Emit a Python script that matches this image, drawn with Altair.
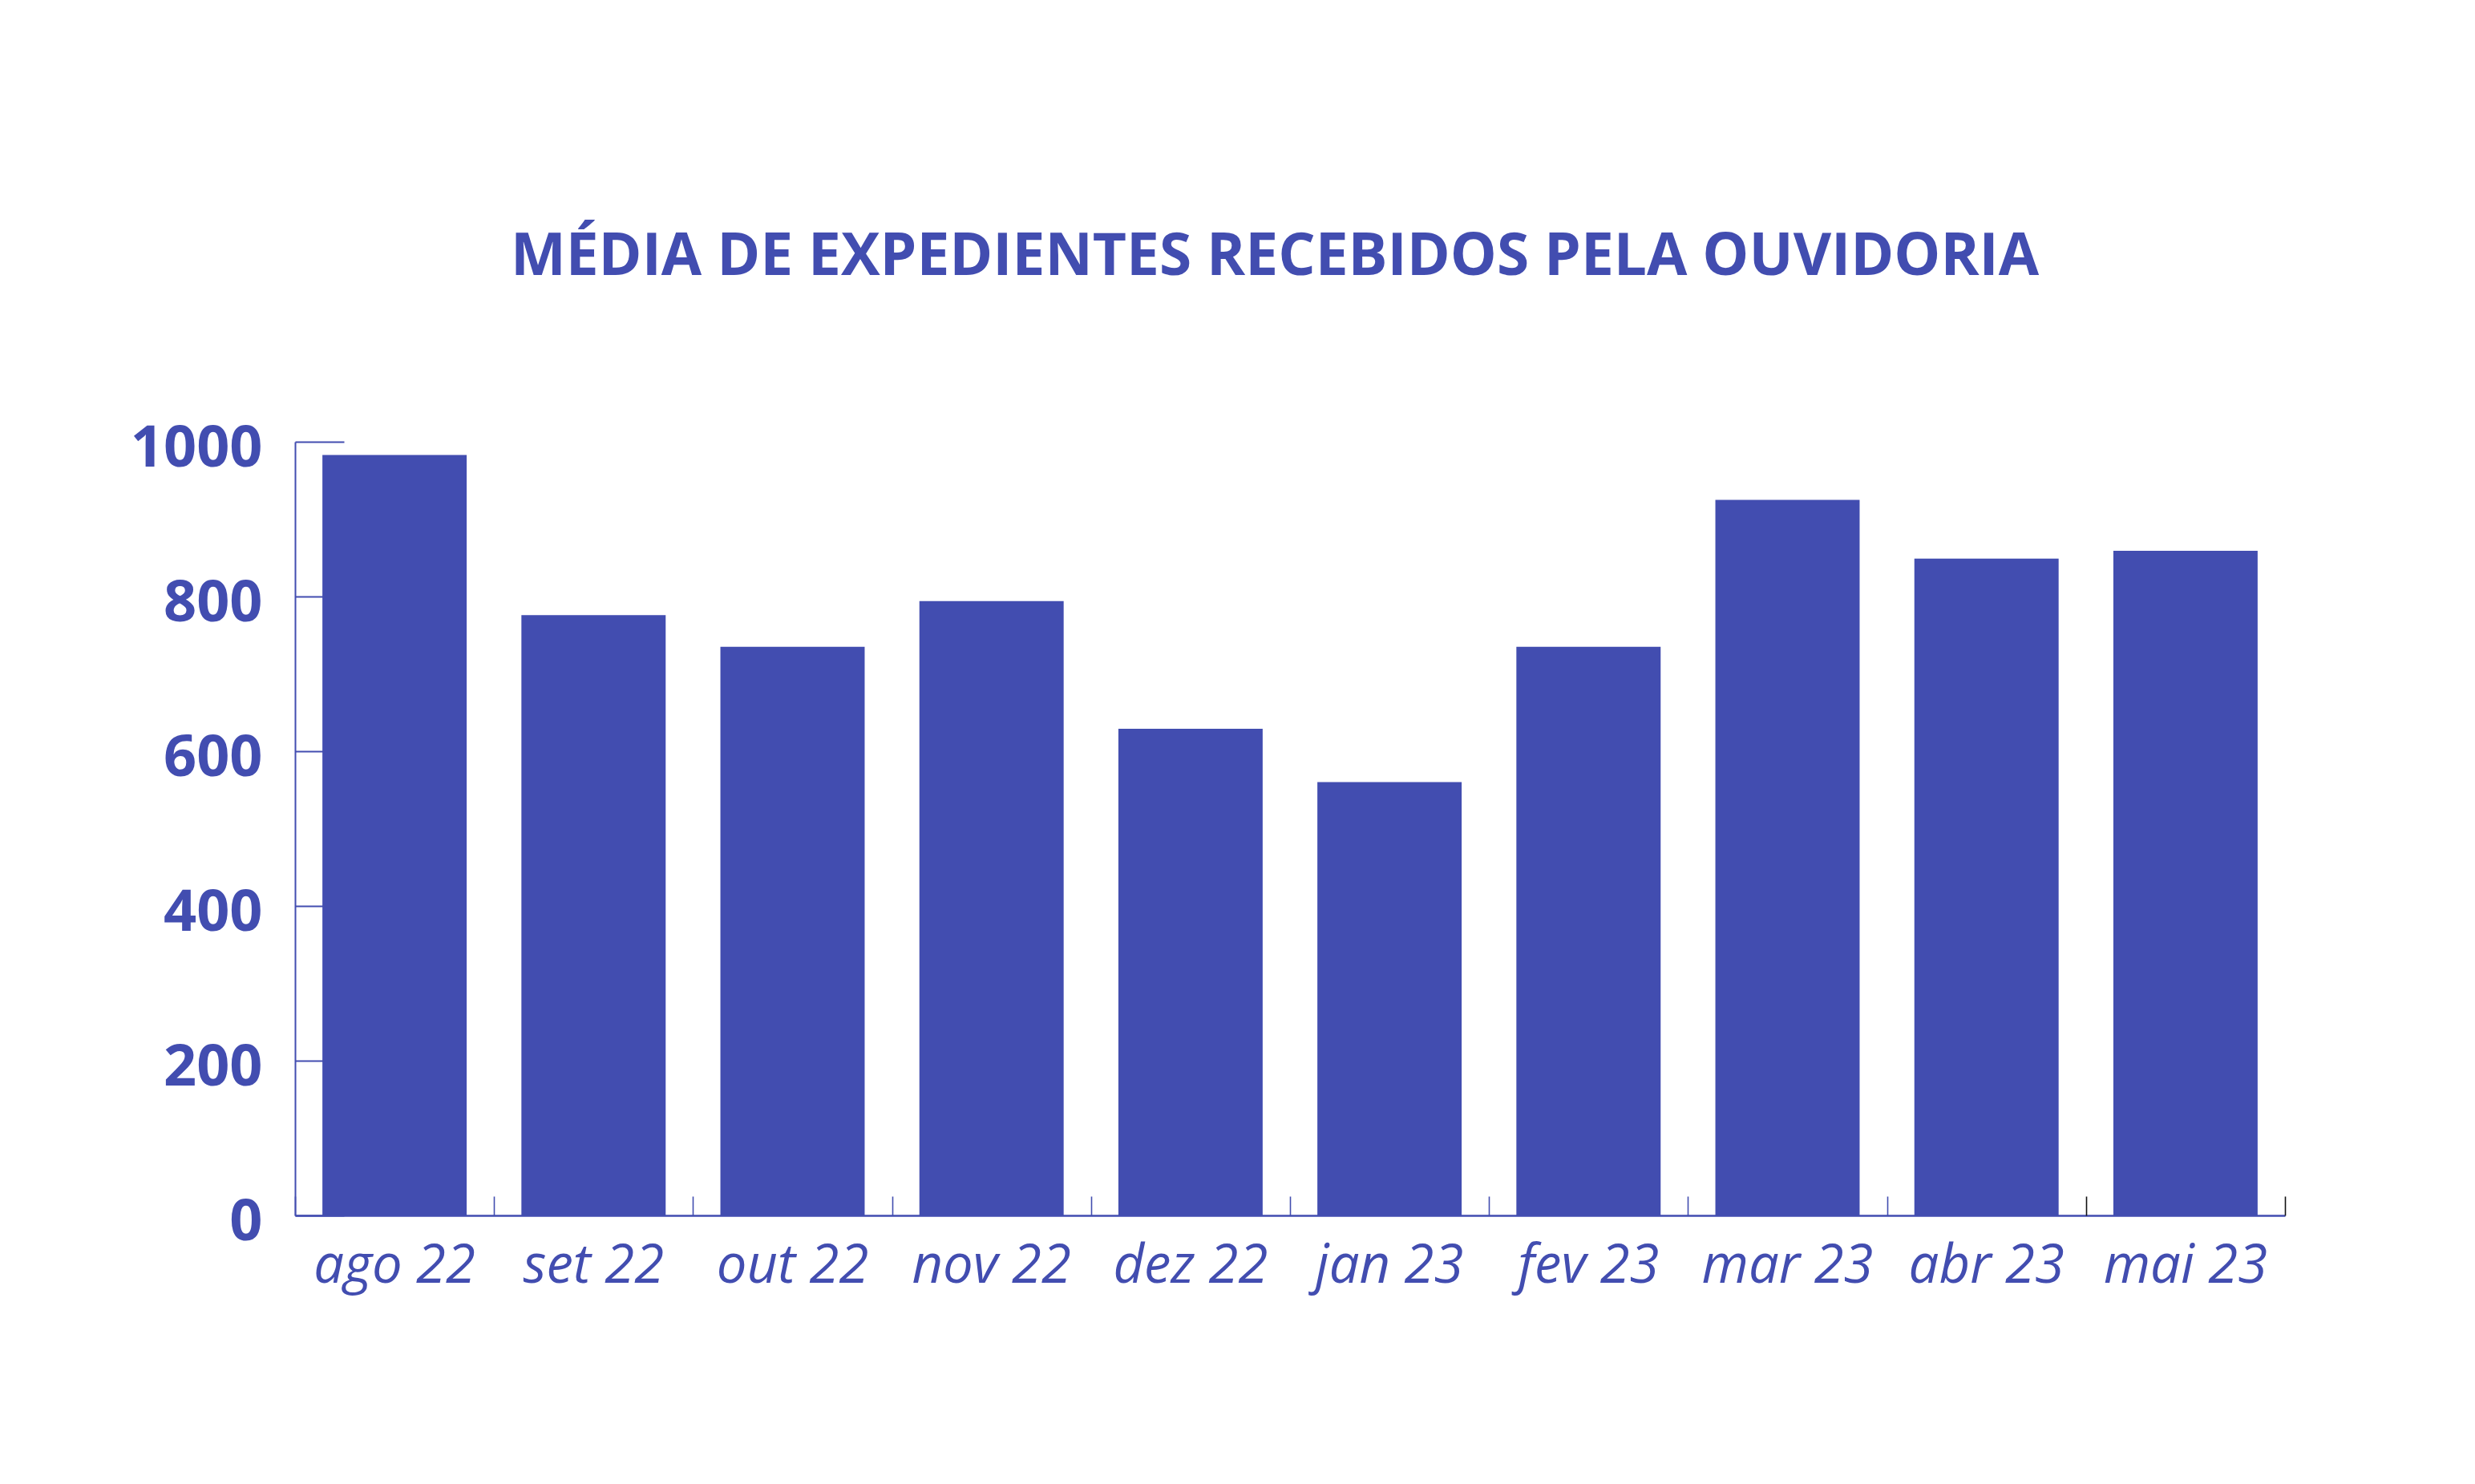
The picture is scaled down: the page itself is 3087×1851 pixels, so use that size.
import altair as alt
import pandas as pd

months = ["ago 22", "set 22", "out 22", "nov 22", "dez 22",
          "jan 23", "fev 23", "mar 23", "abr 23", "mai 23"]
values = [983, 776, 735, 794, 629, 560, 735, 925, 849, 859]
y_ticks = [0, 200, 400, 600, 800, 1000]
title_text = "MÉDIA DE EXPEDIENTES RECEBIDOS PELA OUVIDORIA"

BLUE = "#424DB0"
W, H = 2482, 965

df = pd.DataFrame({"mes": months, "valor": values})

x_scale = alt.Scale(domain=months, paddingInner=0, paddingOuter=0)
y_scale = alt.Scale(domain=[0, 1000], nice=False, zero=True)

base = alt.Chart(df)

bars = base.mark_bar(color=BLUE, width=alt.RelativeBandSize(0.725)).encode(
    x=alt.X("mes:N", scale=x_scale, sort=months,
            axis=alt.Axis(orient="bottom", title=None, ticks=False, tickSize=0,
                          domain=True, domainColor=BLUE, domainWidth=2.5,
                          labelAngle=0, labelFont="Open Sans", labelFontStyle="italic",
                          labelFontWeight="normal", labelFontSize=67, labelColor=BLUE,
                          labelPadding=30, labelLimit=0)),
    y=alt.Y("valor:Q", scale=y_scale,
            axis=alt.Axis(orient="left", title=None, values=y_ticks, ticks=False, tickSize=0,
                          grid=False, domainColor=BLUE, domainWidth=2, format="d",
                          labelFont="Open Sans", labelFontWeight="bold", labelFontSize=72,
                          labelColor=BLUE, labelPadding=41, labelOffset=8,
                          labelBaseline="middle", labelLimit=0)),
)

tick_layer = base.mark_bar(opacity=0).encode(
    x=alt.X("mes:N", scale=x_scale, sort=months,
            axis=alt.Axis(orient="top", offset=-H, title=None, labels=False, domain=False,
                          ticks=True, tickBand="extent", tickSize=24, tickWidth=1.6,
                          tickColor=alt.condition("datum.value == 'abr 23' || datum.value == 'mai 23'",
                                                  alt.value("#111111"), alt.value(BLUE)))),
    y=alt.Y("valor:Q", scale=y_scale,
            axis=alt.Axis(orient="right", offset=-W, title=None, labels=False, domain=False,
                          grid=False, values=y_ticks, ticks=True, tickSize=61, tickWidth=2,
                          tickColor=BLUE)),
)

chart = alt.layer(bars, tick_layer).resolve_axis(
    x="independent", y="independent"
).properties(
    width=W,
    height=H,
    autosize=alt.AutoSizeParams(type="none"),
    padding={"left": 360, "top": 543, "right": 229, "bottom": 327},
    title=alt.TitleParams(text=title_text, font="Open Sans", fontWeight="bold",
                          fontSize=73, color=BLUE, anchor="middle", dx=-19, offset=165),
    background="white",
).configure_view(stroke=None)

chart.save("out.html", embed_options={"renderer": "svg", "actions": False})
